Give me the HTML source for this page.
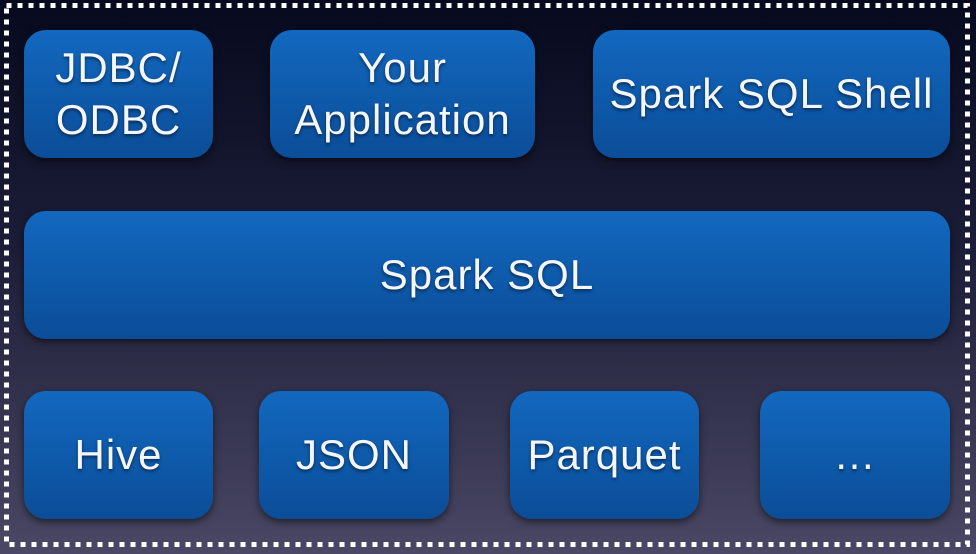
<!DOCTYPE html>
<html><head><style>
html,body{margin:0;padding:0}
body{width:976px;height:554px;position:relative;overflow:hidden;background:linear-gradient(#070a1e 0%,#1c1d38 45%,#4a4864 100%);font-family:"Liberation Sans",sans-serif}
.b{position:absolute;border-radius:22px;background:linear-gradient(#1268bf,#0b4d98);box-shadow:0 3px 8px rgba(0,0,0,.55);color:#f4f6fa;display:flex;align-items:center;justify-content:center;text-align:center;font-size:42px;line-height:52px;text-shadow:0 2px 3px rgba(0,0,0,.5);letter-spacing:1px}
svg{position:absolute;left:0;top:0}
</style></head><body>
<svg width="976" height="554"><rect x="6.5" y="5.5" width="961" height="539" fill="none" stroke="#fff" stroke-width="5" stroke-dasharray="5 6"/></svg>
<div class="b" style="left:24px;top:30px;width:189px;height:128px">JDBC/<br>ODBC</div>
<div class="b" style="left:270px;top:30px;width:265px;height:128px">Your<br>Application</div>
<div class="b" style="left:593px;top:30px;width:357px;height:128px">Spark SQL Shell</div>
<div class="b" style="left:24px;top:211px;width:926px;height:128px">Spark SQL</div>
<div class="b" style="left:24px;top:391px;width:189px;height:128px">Hive</div>
<div class="b" style="left:259px;top:391px;width:190px;height:128px">JSON</div>
<div class="b" style="left:510px;top:391px;width:189px;height:128px">Parquet</div>
<div class="b" style="left:760px;top:391px;width:190px;height:128px">…</div>
</body></html>
